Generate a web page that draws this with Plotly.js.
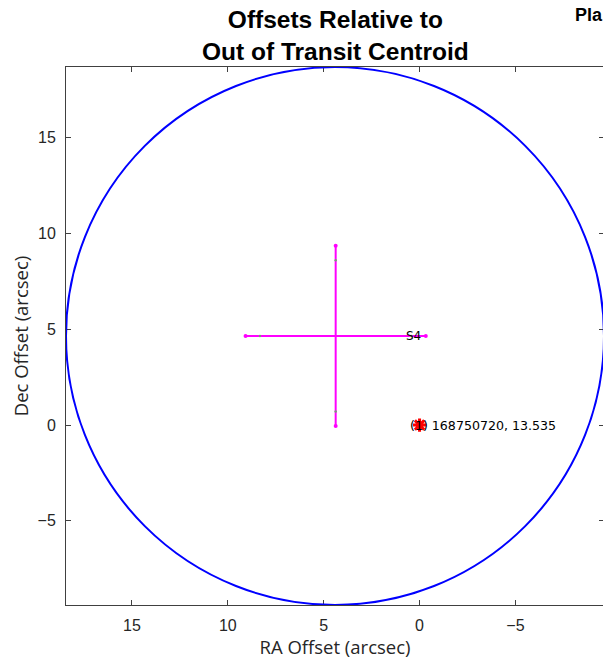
<!DOCTYPE html>
<html>
<head>
<meta charset="utf-8">
<script src="https://cdn.plot.ly/plotly-3.0.1.min.js"></script>
<style>
html,body{margin:0;padding:0;overflow:hidden;background:#fff;}
#chart{width:606px;height:659px;}
</style>
</head>
<body>
<div id="chart"></div>
<script>
// ---- data ----
const circleCenter = [4.41, 4.645];      // RA, Dec (arcsec)
const circleRadius = [14.03];
const centroidRA = [4.375];
const centroidDec = [4.65];
const sigmaOuter = [4.70];               // extent of the magenta cross
const sigmaInner = [3.95];               // small inner marks
const centroidLabel = ['S4'];
const targetRA = [0];
const targetDec = [0];
const targetLabel = ['(1) 168750720, 13.535'];
const xRange = [18.44, -9.62];
const yRange = [-9.39, 18.68];
const tickVals = [-5, 0, 5, 10, 15];

const cx = centroidRA[0], cy = centroidDec[0];
const so = sigmaOuter[0], si = sigmaInner[0];
const magenta = '#ff00ff';

const traces = [
  { // horizontal bar
    x: [cx + so, cx - so], y: [cy, cy], mode: 'lines+markers',
    line: {color: magenta, width: 2}, marker: {color: magenta, size: 4},
    hoverinfo: 'skip', showlegend: false
  },
  { // vertical bar
    x: [cx, cx], y: [cy - so, cy + so], mode: 'lines+markers',
    line: {color: magenta, width: 2}, marker: {color: magenta, size: 4},
    hoverinfo: 'skip', showlegend: false
  },
  { // inner marks
    x: [cx + si, cx - si, cx, cx], y: [cy, cy, cy + si, cy - si], mode: 'markers',
    marker: {color: '#7a9a7a', size: 2.5}, hoverinfo: 'skip', showlegend: false
  },
  { // target star
    x: targetRA, y: targetDec, mode: 'markers',
    marker: {symbol: 'asterisk-open', color: '#ff0000', size: 11, line: {color: '#ff0000', width: 3}},
    hoverinfo: 'skip', showlegend: false
  }
];

const tickFont = {family: 'Liberation Sans, Arial, sans-serif', size: 16, color: '#262626'};
const titleFont = {family: 'Open Sans, sans-serif', size: 18.5, color: '#262626'};

const layout = {
  width: 606, height: 659,
  margin: {l: 66, r: 1.5, t: 67.3, b: 53.7, pad: 0},
  paper_bgcolor: '#ffffff', plot_bgcolor: '#ffffff',
  showlegend: false,
  xaxis: {
    range: xRange, tickvals: tickVals, ticks: 'inside', ticklen: 5, tickcolor: '#404040',
    showline: true, linecolor: '#404040', linewidth: 1, mirror: 'allticks',
    showgrid: false, zeroline: false, tickfont: tickFont, ticklabelstandoff: 6,
    title: {text: 'RA Offset (arcsec)', font: titleFont, standoff: 2}
  },
  yaxis: {
    range: yRange, tickvals: tickVals, ticks: 'inside', ticklen: 5, tickcolor: '#404040',
    showline: true, linecolor: '#404040', linewidth: 1, mirror: 'allticks',
    showgrid: false, zeroline: false, tickfont: tickFont, ticklabelstandoff: 6,
    title: {text: 'Dec Offset (arcsec)', font: titleFont, standoff: 4}
  },
  shapes: [{
    type: 'circle', xref: 'x', yref: 'y',
    x0: circleCenter[0] - circleRadius[0], x1: circleCenter[0] + circleRadius[0],
    y0: circleCenter[1] - circleRadius[0], y1: circleCenter[1] + circleRadius[0],
    line: {color: '#0000ff', width: 2}
  }],
  annotations: [
    {
      text: '<b>Offsets Relative to<br>Out of Transit Centroid</b>',
      xref: 'paper', yref: 'paper', x: 0.5, y: 1, yshift: 0,
      xanchor: 'center', yanchor: 'bottom', showarrow: false,
      font: {family: 'Liberation Sans, Arial, sans-serif', size: 24.5, color: '#000000'}
    },
    {
      text: '<b>Pla</b>', xref: 'paper', yref: 'paper', x: 1, xshift: -31, y: 1, yshift: 40,
      xanchor: 'left', yanchor: 'bottom', showarrow: false,
      font: {family: 'Liberation Sans, Arial, sans-serif', size: 18, color: '#000000'}
    },
    {
      text: centroidLabel[0], x: 0.81, y: cy, xref: 'x', yref: 'y',
      xanchor: 'left', yanchor: 'middle', showarrow: false,
      font: {family: 'DejaVu Sans, sans-serif', size: 12, color: '#000000'}
    },
    {
      text: targetLabel[0], x: 0.6, y: targetDec[0], xref: 'x', yref: 'y',
      xanchor: 'left', yanchor: 'middle', showarrow: false,
      font: {family: 'DejaVu Sans, sans-serif', size: 12.6, color: '#000000'}
    }
  ]
};

Plotly.newPlot('chart', traces, layout, {displayModeBar: false, staticPlot: true});
</script>
</body>
</html>
